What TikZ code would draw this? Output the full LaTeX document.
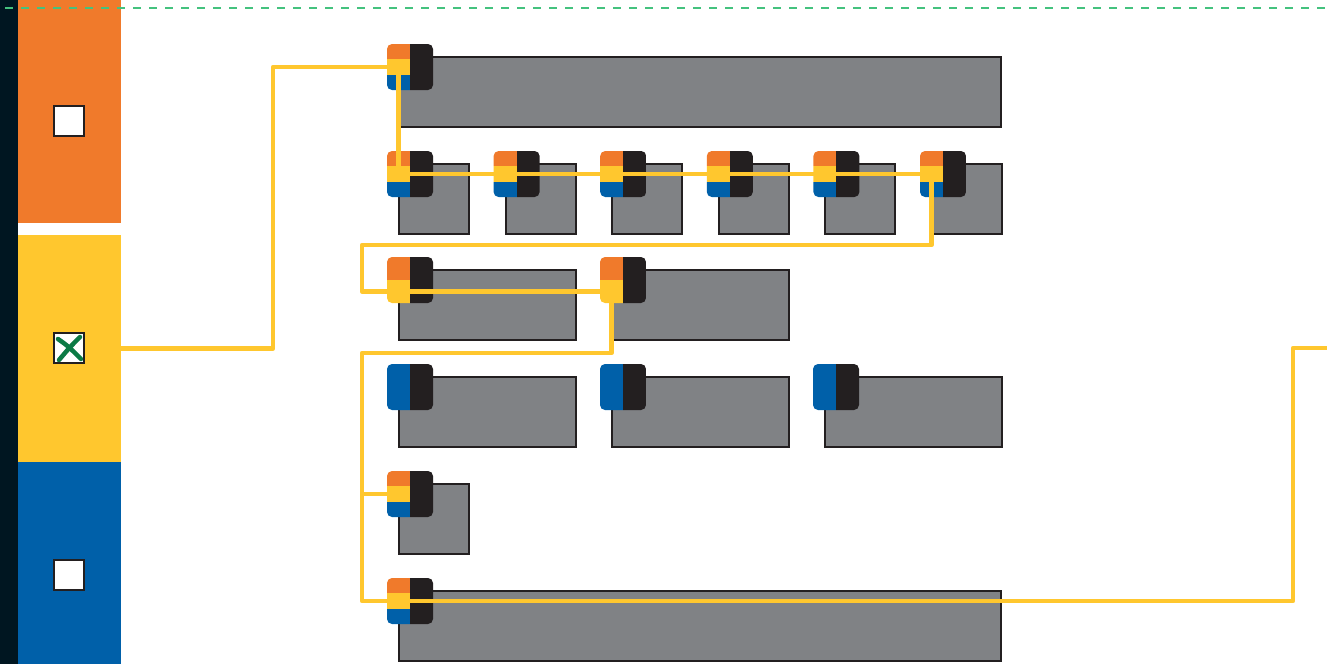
\documentclass[tikz,border=0pt]{standalone}
\definecolor{orng}{HTML}{F07A2B}
\definecolor{ylw}{HTML}{FFC72E}
\definecolor{blu}{HTML}{0060A9}
\definecolor{ink}{HTML}{231F20}
\definecolor{slate}{HTML}{808285}
\definecolor{navy}{HTML}{001621}
\definecolor{grn}{HTML}{0B7A45}
\definecolor{dashgrn}{HTML}{44C27E}
\tikzset{
  bx/.style={draw=ink, line width=2pt, fill=slate, anchor=north west, minimum height=70pt, inner sep=0pt, outer sep=0pt},
  ico/.style={minimum size=46pt, inner sep=0pt, outer sep=0pt, rounded corners=5pt, anchor=north west},
  tri/.style={ico, path picture={
    \coordinate (pc) at (path picture bounding box.center);
    \fill[ink, sharp corners] (pc) ++(0,-24) rectangle ++(24,48);
    \fill[orng, sharp corners] (pc) ++(-24,-24) rectangle ++(24,16.4);
    \fill[ylw, sharp corners] (pc) ++(-24,-7.67) rectangle ++(24,15.34);
    \fill[blu, sharp corners] (pc) ++(-24,7.67) rectangle ++(24,16.4);
  }},
  duo/.style={ico, path picture={
    \coordinate (pc) at (path picture bounding box.center);
    \fill[ink, sharp corners] (pc) ++(0,-24) rectangle ++(24,48);
    \fill[orng, sharp corners] (pc) ++(-24,-24) rectangle ++(24,24);
    \fill[ylw, sharp corners] (pc) ++(-24,0) rectangle ++(24,24);
  }},
  mono/.style={ico, path picture={
    \coordinate (pc) at (path picture bounding box.center);
    \fill[ink, sharp corners] (pc) ++(0,-24) rectangle ++(24,48);
    \fill[blu, sharp corners] (pc) ++(-24,-24) rectangle ++(24,48);
  }},
  panel/.style={anchor=north west, minimum width=103pt, inner sep=0pt, outer sep=0pt},
  chk/.style={draw=ink, fill=white, line width=1.8pt, minimum size=30pt, inner sep=0pt},
  wire/.style={ylw, line width=4.4pt, line join=round},
}
\begin{document}
\begin{tikzpicture}[x=1pt,y=-1pt]
\useasboundingbox (0,0) rectangle (1327,664);
\fill[navy] (0,0) rectangle (18,664);
\node[panel, fill=orng, minimum height=223pt] (orpan) at (18,0) {};
\node[panel, fill=ylw, minimum height=227pt] (ylpan) at (18,235) {};
\node[panel, fill=blu, minimum height=202pt] (blpan) at (18,462) {};
\draw[dashgrn, line width=1.2pt, dash pattern=on 8pt off 8pt] (5,8) -- (1327,8);

\node[chk] (c1) at (69,121) {};
\node[chk] (c2) at (69,348) {};
\node[chk] (c3) at (69,575) {};
\draw[grn, line width=4.5pt, line cap=round] (58,339) .. controls (68,346) .. (81,359);
\draw[grn, line width=4.5pt, line cap=round] (80,337) .. controls (70,347) .. (59,360);

\node[bx, minimum width=602pt] (b11) at (399,57) {};
\node[tri] (i11) at ([shift={(-12,-13)}]b11.north west) {};
\coordinate (p11) at ([xshift=-11.5pt]i11.center);

\foreach \i in {1,...,6}{
  \node[bx, minimum width=70pt] (b2\i) at ({399+106.6*(\i-1)},164) {};
  \node[tri] (i2\i) at ([shift={(-12,-13)}]b2\i.north west) {};
  \coordinate (p2\i) at ([xshift=-11.5pt]i2\i.center);
}

\foreach \i in {1,2}{
  \node[bx, minimum width=177pt] (b3\i) at ({399+213*(\i-1)},270) {};
  \node[duo] (i3\i) at ([shift={(-12,-13)}]b3\i.north west) {};
  \coordinate (p3\i) at ([shift={(-11.5,11.5)}]i3\i.center);
}

\foreach \i in {1,2,3}{
  \node[bx, minimum width=177pt] (b4\i) at ({399+213*(\i-1)},377) {};
  \node[mono] (i4\i) at ([shift={(-12,-13)}]b4\i.north west) {};
}

\node[bx, minimum width=70pt] (b51) at (399,484) {};
\node[tri] (i51) at ([shift={(-12,-13)}]b51.north west) {};
\coordinate (p51) at ([xshift=-11.5pt]i51.center);

\node[bx, minimum width=602pt] (b61) at (399,591) {};
\node[tri] (i61) at ([shift={(-12,-13)}]b61.north west) {};
\coordinate (p61) at ([xshift=-11.5pt]i61.center);

\coordinate (k1) at (273,67);
\coordinate (k2) at (362,245);
\coordinate (k3) at (362,353);
\coordinate (k4) at (1293,601);
\coordinate (k5) at (1327,348);
\draw[wire] (ylpan.east) -| (k1) -- (p11) -- (p21) -- (p26);
\draw[wire] (p26) |- (k2) |- (p32) |- (k3) |- (k4) |- (k5);
\draw[wire] (k3) |- (p51);
\end{tikzpicture}
\end{document}
